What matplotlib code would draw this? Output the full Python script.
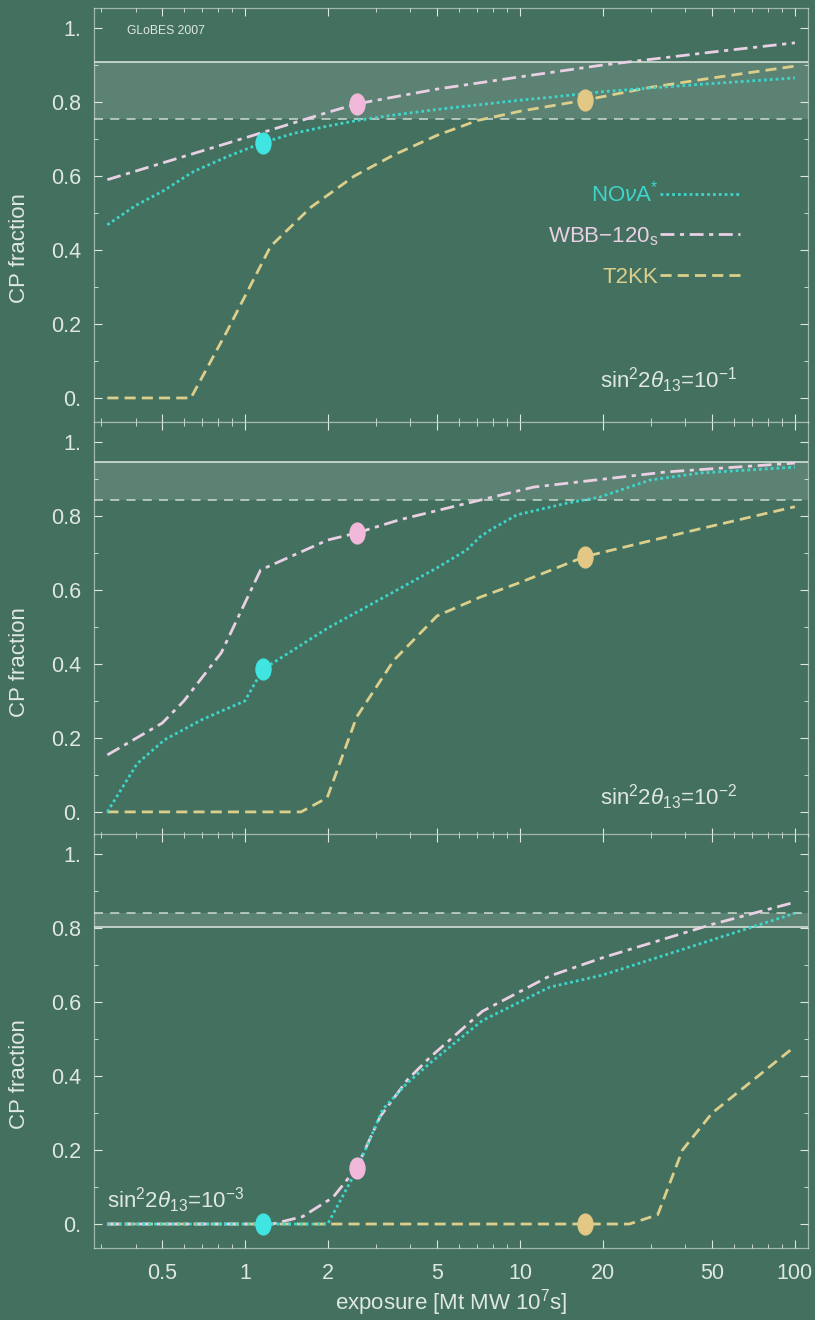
import matplotlib
matplotlib.use("Agg")
import matplotlib.pyplot as plt
from matplotlib.path import Path
from matplotlib.transforms import Affine2D
from matplotlib.ticker import FixedLocator, NullFormatter

plt.rcParams['font.family'] = ['Liberation Sans', 'DejaVu Sans']
plt.rcParams['mathtext.fontset'] = 'custom'
plt.rcParams['mathtext.rm'] = 'Liberation Sans'
plt.rcParams['mathtext.it'] = 'Liberation Sans:italic'

bg      = '#44705f'
fg      = '#dfe8e0'
c_nova  = '#3ed6cc'
c_wbb   = '#ead0e4'
c_t2kk  = '#dccf8c'
m_nova  = '#40e4e0'
m_wbb   = '#f2b8da'
m_t2kk  = '#e2c884'

# CP fraction vs exposure, sin^2 2theta13 = 1e-1
x_nova_1 = [0.316, 0.4, 0.5, 0.65, 0.86, 1.16, 1.5, 2.0, 2.55, 3.5, 5.0, 7.0, 10, 13, 20, 30, 50, 100]
y_nova_1 = [0.468, 0.52, 0.558, 0.612, 0.652, 0.69, 0.715, 0.735, 0.75, 0.765, 0.78, 0.792, 0.805, 0.813, 0.828, 0.838, 0.85, 0.865]
x_wbb_1  = [0.316, 0.5, 1.0, 2.0, 2.55, 5.0, 10, 20, 50, 100]
y_wbb_1  = [0.59, 0.635, 0.703, 0.772, 0.795, 0.835, 0.868, 0.90, 0.935, 0.96]
x_t2kk_1 = [0.316, 0.636, 0.86, 1.24, 1.74, 2.5, 3.48, 5.0, 7.0, 10, 17.2, 30, 50, 100]
y_t2kk_1 = [0.0, 0.0, 0.18, 0.41, 0.516, 0.60, 0.657, 0.71, 0.75, 0.775, 0.805, 0.84, 0.865, 0.897]

# sin^2 2theta13 = 1e-2
x_nova_2 = [0.316, 0.405, 0.51, 0.7, 1.0, 1.16, 2.0, 3.48, 5.0, 6.4, 7.15, 7.8, 9.75, 14.9, 19.5, 29.7, 45, 100]
y_nova_2 = [0.0, 0.13, 0.195, 0.25, 0.30, 0.385, 0.497, 0.595, 0.66, 0.708, 0.743, 0.762, 0.803, 0.835, 0.851, 0.897, 0.916, 0.932]
x_wbb_2  = [0.316, 0.5, 0.6, 0.82, 1.14, 2.0, 2.55, 3.66, 11.2, 34, 100]
y_wbb_2  = [0.154, 0.24, 0.30, 0.43, 0.654, 0.735, 0.754, 0.79, 0.878, 0.919, 0.943]
x_t2kk_2 = [0.316, 1.6, 1.99, 2.55, 3.48, 5.0, 7.14, 10, 17.2, 45, 100]
y_t2kk_2 = [0.0, 0.0, 0.038, 0.257, 0.41, 0.53, 0.58, 0.62, 0.69, 0.765, 0.825]

# sin^2 2theta13 = 1e-3
x_nova_3 = [0.316, 1.16, 2.0, 2.55, 3.17, 3.88, 4.8, 7.3, 12.8, 20, 50, 100]
y_nova_3 = [0.0, 0.0, 0.0, 0.146, 0.31, 0.38, 0.44, 0.55, 0.64, 0.673, 0.768, 0.84]
x_wbb_3  = [0.316, 1.26, 1.62, 2.09, 2.55, 3.1, 3.9, 4.7, 7.3, 12.8, 20, 50, 100]
y_wbb_3  = [0.0, 0.0, 0.02, 0.072, 0.152, 0.29, 0.39, 0.45, 0.575, 0.67, 0.72, 0.81, 0.87]
x_t2kk_3 = [0.316, 17.2, 25, 31.7, 39, 50, 100]
y_t2kk_3 = [0.0, 0.0, 0.0, 0.025, 0.2, 0.30, 0.48]

# highlighted points on each curve
mark_x_nova, mark_x_wbb, mark_x_t2kk = 1.16, 2.55, 17.2
mark_y_nova = [0.69, 0.385, 0.0]
mark_y_wbb  = [0.795, 0.754, 0.152]
mark_y_t2kk = [0.805, 0.69, 0.0]

# reference band per panel: (solid line, dashed line)
band_solid  = [0.908, 0.946, 0.803]
band_dashed = [0.754, 0.843, 0.840]

labels_th = [r'sin$^2$2$\theta_{13}$=10$^{-1}$',
             r'sin$^2$2$\theta_{13}$=10$^{-2}$',
             r'sin$^2$2$\theta_{13}$=10$^{-3}$']
label_pos = [(0.805, 0.101), (0.805, 0.094), (0.115, 0.116)]

xt = [0.5, 1, 2, 5, 10, 20, 50, 100]
xt_labels = ['0.5', '1', '2', '5', '10', '20', '50', '100']
xt_minor = [0.3, 0.4, 0.6, 0.7, 0.8, 0.9, 3, 4, 6, 7, 8, 9, 30, 40, 60, 70, 80, 90]
yt = [0, 0.2, 0.4, 0.6, 0.8, 1.0]
yt_labels = ['0.', '0.2', '0.4', '0.6', '0.8', '1.']

ls_nova = (0, (1, 1.1))
ls_wbb  = (0, (5, 2, 1.5, 2))
ls_t2kk = (0, (4, 2.2))

oval = Path.unit_circle().transformed(Affine2D().scale(0.72, 1.0))

curves = [
    (x_nova_1, y_nova_1, x_wbb_1, y_wbb_1, x_t2kk_1, y_t2kk_1),
    (x_nova_2, y_nova_2, x_wbb_2, y_wbb_2, x_t2kk_2, y_t2kk_2),
    (x_nova_3, y_nova_3, x_wbb_3, y_wbb_3, x_t2kk_3, y_t2kk_3),
]

fig = plt.figure(figsize=(8.15, 13.2), dpi=100, facecolor=bg)
bottoms = [0.6803, 0.3667, 0.0545]
axes = []
for i in range(3):
    ax = fig.add_axes([0.1153, bottoms[i], 0.876, 0.3136], facecolor=bg)
    axes.append(ax)
    xn, yn, xw, yw, xk, yk = curves[i]

    ax.axhspan(min(band_solid[i], band_dashed[i]), max(band_solid[i], band_dashed[i]),
               color='white', alpha=0.13, lw=0)
    ax.axhline(band_solid[i], color=fg, lw=1.3, alpha=0.85)
    ax.axhline(band_dashed[i], color=fg, lw=1.3, alpha=0.75, linestyle=(0, (5, 4)))

    ax.plot(xk, yk, color=c_t2kk, lw=2.0, linestyle=ls_t2kk, label='T2KK', zorder=3)
    ax.plot(xw, yw, color=c_wbb, lw=2.0, linestyle=ls_wbb, label=r'WBB$-$120$_{\rm s}$', zorder=4)
    ax.plot(xn, yn, color=c_nova, lw=2.0, linestyle=ls_nova, label=r'NO$\nu$A$^{*}$', zorder=5)

    ax.plot([mark_x_t2kk], [mark_y_t2kk[i]], marker=oval, ms=15, color=m_t2kk, lw=0, zorder=6)
    ax.plot([mark_x_wbb], [mark_y_wbb[i]], marker=oval, ms=15, color=m_wbb, lw=0, zorder=6)
    ax.plot([mark_x_nova], [mark_y_nova[i]], marker=oval, ms=15, color=m_nova, lw=0, zorder=7)

    ax.text(label_pos[i][0], label_pos[i][1], labels_th[i], transform=ax.transAxes,
            color=fg, fontsize=16, ha='center', va='center')

    ax.set_xscale('log')
    ax.set_xlim(0.2825, 111.5)
    ax.set_ylim(-0.065, 1.054)
    ax.xaxis.set_major_locator(FixedLocator(xt))
    ax.xaxis.set_minor_locator(FixedLocator(xt_minor))
    ax.xaxis.set_minor_formatter(NullFormatter())
    if i == 2:
        ax.set_xticklabels(xt_labels)
        ax.set_xlabel(r'exposure [Mt MW 10$^7$s]', color=fg, fontsize=16, labelpad=2)
    else:
        ax.set_xticklabels([])
    ax.set_yticks(yt)
    ax.set_yticklabels(yt_labels)
    ax.set_yticks([0.1, 0.3, 0.5, 0.7, 0.9], minor=True)
    ax.tick_params(which='both', direction='in', colors=fg, labelcolor=fg,
                   top=True, right=True, labelsize=15.5)
    ax.tick_params(which='major', length=6, width=0.8)
    ax.tick_params(which='minor', length=3, width=0.6)
    ax.tick_params(axis='y', pad=9)
    ax.tick_params(axis='x', pad=11)
    for s in ax.spines.values():
        s.set_color(fg)
        s.set_alpha(0.6)
        s.set_linewidth(0.9)

    ax.set_ylabel('CP fraction', color=fg, fontsize=16)
    ax.yaxis.set_label_coords(-0.089, 0.42)

axes[0].text(0.101, 0.944, 'GLoBES 2007', transform=axes[0].transAxes, color=fg,
             fontsize=8.7, ha='center', va='center')

h, l = axes[0].get_legend_handles_labels()
order = [2, 1, 0]
leg = axes[0].legend([h[k] for k in order], [l[k] for k in order],
                     loc='upper right', bbox_to_anchor=(0.933, 0.632),
                     frameon=False, markerfirst=False, handlelength=3.6,
                     handletextpad=0.1, labelspacing=0.85, fontsize=16,
                     labelcolor=[c_nova, c_wbb, c_t2kk])
for t in leg.get_texts():
    t.set_ha('right')

fig.savefig('out.png', dpi=100, facecolor=bg)
